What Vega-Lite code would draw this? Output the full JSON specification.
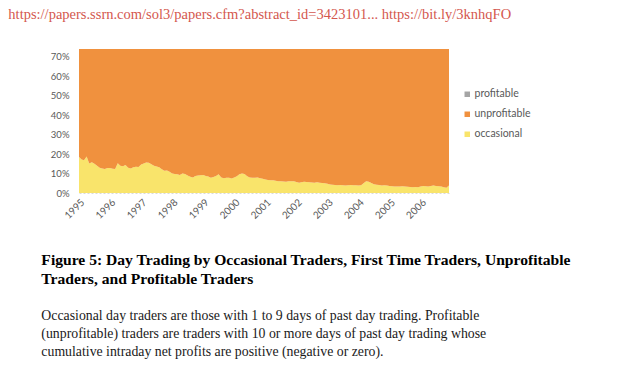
{
  "$schema": "https://vega.github.io/schema/vega-lite/v6.json",
  "background": "white",
  "padding": {"left": 8, "top": 6, "right": 0, "bottom": 0},
  "title": {
    "text": "https://papers.ssrn.com/sol3/papers.cfm?abstract_id=3423101... https://bit.ly/3knhqFO",
    "anchor": "start", "frame": "bounds", "dx": -33, "offset": 27,
    "font": "Liberation Serif", "fontSize": 14.5, "fontWeight": "normal", "color": "#d4574e"
  },
  "config": {"view": {"stroke": null}, "concat": {"spacing": 0}},
  "datasets": {
    "groups": [
      {"trader": "occasional", "rank": 1},
      {"trader": "unprofitable", "rank": 2},
      {"trader": "profitable", "rank": 3}
    ],
    "shares": [
      {"month": "1995-01-01", "occasional": 0.185, "unprofitable": 0.78, "profitable": 0.12},
      {"month": "1995-02-01", "occasional": 0.172, "unprofitable": 0.78, "profitable": 0.12},
      {"month": "1995-03-01", "occasional": 0.168, "unprofitable": 0.78, "profitable": 0.12},
      {"month": "1995-04-01", "occasional": 0.188, "unprofitable": 0.78, "profitable": 0.12},
      {"month": "1995-05-01", "occasional": 0.152, "unprofitable": 0.78, "profitable": 0.12},
      {"month": "1995-06-01", "occasional": 0.158, "unprofitable": 0.78, "profitable": 0.12},
      {"month": "1995-07-01", "occasional": 0.150, "unprofitable": 0.78, "profitable": 0.12},
      {"month": "1995-08-01", "occasional": 0.140, "unprofitable": 0.78, "profitable": 0.12},
      {"month": "1995-09-01", "occasional": 0.130, "unprofitable": 0.78, "profitable": 0.12},
      {"month": "1995-10-01", "occasional": 0.126, "unprofitable": 0.78, "profitable": 0.12},
      {"month": "1995-11-01", "occasional": 0.123, "unprofitable": 0.78, "profitable": 0.12},
      {"month": "1995-12-01", "occasional": 0.128, "unprofitable": 0.78, "profitable": 0.12},
      {"month": "1996-01-01", "occasional": 0.128, "unprofitable": 0.78, "profitable": 0.12},
      {"month": "1996-02-01", "occasional": 0.125, "unprofitable": 0.78, "profitable": 0.12},
      {"month": "1996-03-01", "occasional": 0.123, "unprofitable": 0.78, "profitable": 0.12},
      {"month": "1996-04-01", "occasional": 0.153, "unprofitable": 0.78, "profitable": 0.12},
      {"month": "1996-05-01", "occasional": 0.140, "unprofitable": 0.78, "profitable": 0.12},
      {"month": "1996-06-01", "occasional": 0.138, "unprofitable": 0.78, "profitable": 0.12},
      {"month": "1996-07-01", "occasional": 0.144, "unprofitable": 0.78, "profitable": 0.12},
      {"month": "1996-08-01", "occasional": 0.130, "unprofitable": 0.78, "profitable": 0.12},
      {"month": "1996-09-01", "occasional": 0.126, "unprofitable": 0.78, "profitable": 0.12},
      {"month": "1996-10-01", "occasional": 0.132, "unprofitable": 0.78, "profitable": 0.12},
      {"month": "1996-11-01", "occasional": 0.135, "unprofitable": 0.78, "profitable": 0.12},
      {"month": "1996-12-01", "occasional": 0.134, "unprofitable": 0.78, "profitable": 0.12},
      {"month": "1997-01-01", "occasional": 0.146, "unprofitable": 0.78, "profitable": 0.12},
      {"month": "1997-02-01", "occasional": 0.152, "unprofitable": 0.78, "profitable": 0.12},
      {"month": "1997-03-01", "occasional": 0.157, "unprofitable": 0.78, "profitable": 0.12},
      {"month": "1997-04-01", "occasional": 0.155, "unprofitable": 0.78, "profitable": 0.12},
      {"month": "1997-05-01", "occasional": 0.148, "unprofitable": 0.78, "profitable": 0.12},
      {"month": "1997-06-01", "occasional": 0.140, "unprofitable": 0.78, "profitable": 0.12},
      {"month": "1997-07-01", "occasional": 0.136, "unprofitable": 0.78, "profitable": 0.12},
      {"month": "1997-08-01", "occasional": 0.132, "unprofitable": 0.78, "profitable": 0.12},
      {"month": "1997-09-01", "occasional": 0.122, "unprofitable": 0.78, "profitable": 0.12},
      {"month": "1997-10-01", "occasional": 0.114, "unprofitable": 0.78, "profitable": 0.12},
      {"month": "1997-11-01", "occasional": 0.115, "unprofitable": 0.78, "profitable": 0.12},
      {"month": "1997-12-01", "occasional": 0.109, "unprofitable": 0.78, "profitable": 0.12},
      {"month": "1998-01-01", "occasional": 0.100, "unprofitable": 0.78, "profitable": 0.12},
      {"month": "1998-02-01", "occasional": 0.098, "unprofitable": 0.78, "profitable": 0.12},
      {"month": "1998-03-01", "occasional": 0.096, "unprofitable": 0.78, "profitable": 0.12},
      {"month": "1998-04-01", "occasional": 0.093, "unprofitable": 0.78, "profitable": 0.12},
      {"month": "1998-05-01", "occasional": 0.100, "unprofitable": 0.78, "profitable": 0.12},
      {"month": "1998-06-01", "occasional": 0.098, "unprofitable": 0.78, "profitable": 0.12},
      {"month": "1998-07-01", "occasional": 0.090, "unprofitable": 0.78, "profitable": 0.12},
      {"month": "1998-08-01", "occasional": 0.083, "unprofitable": 0.78, "profitable": 0.12},
      {"month": "1998-09-01", "occasional": 0.080, "unprofitable": 0.78, "profitable": 0.12},
      {"month": "1998-10-01", "occasional": 0.088, "unprofitable": 0.78, "profitable": 0.12},
      {"month": "1998-11-01", "occasional": 0.090, "unprofitable": 0.78, "profitable": 0.12},
      {"month": "1998-12-01", "occasional": 0.091, "unprofitable": 0.78, "profitable": 0.12},
      {"month": "1999-01-01", "occasional": 0.093, "unprofitable": 0.78, "profitable": 0.12},
      {"month": "1999-02-01", "occasional": 0.088, "unprofitable": 0.78, "profitable": 0.12},
      {"month": "1999-03-01", "occasional": 0.085, "unprofitable": 0.78, "profitable": 0.12},
      {"month": "1999-04-01", "occasional": 0.079, "unprofitable": 0.78, "profitable": 0.12},
      {"month": "1999-05-01", "occasional": 0.082, "unprofitable": 0.78, "profitable": 0.12},
      {"month": "1999-06-01", "occasional": 0.088, "unprofitable": 0.78, "profitable": 0.12},
      {"month": "1999-07-01", "occasional": 0.096, "unprofitable": 0.78, "profitable": 0.12},
      {"month": "1999-08-01", "occasional": 0.080, "unprofitable": 0.78, "profitable": 0.12},
      {"month": "1999-09-01", "occasional": 0.076, "unprofitable": 0.78, "profitable": 0.12},
      {"month": "1999-10-01", "occasional": 0.079, "unprofitable": 0.78, "profitable": 0.12},
      {"month": "1999-11-01", "occasional": 0.078, "unprofitable": 0.78, "profitable": 0.12},
      {"month": "1999-12-01", "occasional": 0.074, "unprofitable": 0.78, "profitable": 0.12},
      {"month": "2000-01-01", "occasional": 0.080, "unprofitable": 0.78, "profitable": 0.12},
      {"month": "2000-02-01", "occasional": 0.086, "unprofitable": 0.78, "profitable": 0.12},
      {"month": "2000-03-01", "occasional": 0.096, "unprofitable": 0.78, "profitable": 0.12},
      {"month": "2000-04-01", "occasional": 0.100, "unprofitable": 0.78, "profitable": 0.12},
      {"month": "2000-05-01", "occasional": 0.097, "unprofitable": 0.78, "profitable": 0.12},
      {"month": "2000-06-01", "occasional": 0.086, "unprofitable": 0.78, "profitable": 0.12},
      {"month": "2000-07-01", "occasional": 0.080, "unprofitable": 0.78, "profitable": 0.12},
      {"month": "2000-08-01", "occasional": 0.079, "unprofitable": 0.78, "profitable": 0.12},
      {"month": "2000-09-01", "occasional": 0.078, "unprofitable": 0.78, "profitable": 0.12},
      {"month": "2000-10-01", "occasional": 0.080, "unprofitable": 0.78, "profitable": 0.12},
      {"month": "2000-11-01", "occasional": 0.076, "unprofitable": 0.78, "profitable": 0.12},
      {"month": "2000-12-01", "occasional": 0.073, "unprofitable": 0.78, "profitable": 0.12},
      {"month": "2001-01-01", "occasional": 0.070, "unprofitable": 0.78, "profitable": 0.12},
      {"month": "2001-02-01", "occasional": 0.067, "unprofitable": 0.78, "profitable": 0.12},
      {"month": "2001-03-01", "occasional": 0.065, "unprofitable": 0.78, "profitable": 0.12},
      {"month": "2001-04-01", "occasional": 0.066, "unprofitable": 0.78, "profitable": 0.12},
      {"month": "2001-05-01", "occasional": 0.063, "unprofitable": 0.78, "profitable": 0.12},
      {"month": "2001-06-01", "occasional": 0.061, "unprofitable": 0.78, "profitable": 0.12},
      {"month": "2001-07-01", "occasional": 0.060, "unprofitable": 0.78, "profitable": 0.12},
      {"month": "2001-08-01", "occasional": 0.059, "unprofitable": 0.78, "profitable": 0.12},
      {"month": "2001-09-01", "occasional": 0.058, "unprofitable": 0.78, "profitable": 0.12},
      {"month": "2001-10-01", "occasional": 0.060, "unprofitable": 0.78, "profitable": 0.12},
      {"month": "2001-11-01", "occasional": 0.061, "unprofitable": 0.78, "profitable": 0.12},
      {"month": "2001-12-01", "occasional": 0.060, "unprofitable": 0.78, "profitable": 0.12},
      {"month": "2002-01-01", "occasional": 0.056, "unprofitable": 0.78, "profitable": 0.12},
      {"month": "2002-02-01", "occasional": 0.053, "unprofitable": 0.78, "profitable": 0.12},
      {"month": "2002-03-01", "occasional": 0.055, "unprofitable": 0.78, "profitable": 0.12},
      {"month": "2002-04-01", "occasional": 0.058, "unprofitable": 0.78, "profitable": 0.12},
      {"month": "2002-05-01", "occasional": 0.057, "unprofitable": 0.78, "profitable": 0.12},
      {"month": "2002-06-01", "occasional": 0.055, "unprofitable": 0.78, "profitable": 0.12},
      {"month": "2002-07-01", "occasional": 0.054, "unprofitable": 0.78, "profitable": 0.12},
      {"month": "2002-08-01", "occasional": 0.053, "unprofitable": 0.78, "profitable": 0.12},
      {"month": "2002-09-01", "occasional": 0.055, "unprofitable": 0.78, "profitable": 0.12},
      {"month": "2002-10-01", "occasional": 0.053, "unprofitable": 0.78, "profitable": 0.12},
      {"month": "2002-11-01", "occasional": 0.052, "unprofitable": 0.78, "profitable": 0.12},
      {"month": "2002-12-01", "occasional": 0.050, "unprofitable": 0.78, "profitable": 0.12},
      {"month": "2003-01-01", "occasional": 0.047, "unprofitable": 0.78, "profitable": 0.12},
      {"month": "2003-02-01", "occasional": 0.044, "unprofitable": 0.78, "profitable": 0.12},
      {"month": "2003-03-01", "occasional": 0.042, "unprofitable": 0.78, "profitable": 0.12},
      {"month": "2003-04-01", "occasional": 0.041, "unprofitable": 0.78, "profitable": 0.12},
      {"month": "2003-05-01", "occasional": 0.040, "unprofitable": 0.78, "profitable": 0.12},
      {"month": "2003-06-01", "occasional": 0.041, "unprofitable": 0.78, "profitable": 0.12},
      {"month": "2003-07-01", "occasional": 0.040, "unprofitable": 0.78, "profitable": 0.12},
      {"month": "2003-08-01", "occasional": 0.039, "unprofitable": 0.78, "profitable": 0.12},
      {"month": "2003-09-01", "occasional": 0.040, "unprofitable": 0.78, "profitable": 0.12},
      {"month": "2003-10-01", "occasional": 0.041, "unprofitable": 0.78, "profitable": 0.12},
      {"month": "2003-11-01", "occasional": 0.040, "unprofitable": 0.78, "profitable": 0.12},
      {"month": "2003-12-01", "occasional": 0.040, "unprofitable": 0.78, "profitable": 0.12},
      {"month": "2004-01-01", "occasional": 0.039, "unprofitable": 0.78, "profitable": 0.12},
      {"month": "2004-02-01", "occasional": 0.040, "unprofitable": 0.78, "profitable": 0.12},
      {"month": "2004-03-01", "occasional": 0.050, "unprofitable": 0.78, "profitable": 0.12},
      {"month": "2004-04-01", "occasional": 0.061, "unprofitable": 0.78, "profitable": 0.12},
      {"month": "2004-05-01", "occasional": 0.058, "unprofitable": 0.78, "profitable": 0.12},
      {"month": "2004-06-01", "occasional": 0.052, "unprofitable": 0.78, "profitable": 0.12},
      {"month": "2004-07-01", "occasional": 0.045, "unprofitable": 0.78, "profitable": 0.12},
      {"month": "2004-08-01", "occasional": 0.042, "unprofitable": 0.78, "profitable": 0.12},
      {"month": "2004-09-01", "occasional": 0.041, "unprofitable": 0.78, "profitable": 0.12},
      {"month": "2004-10-01", "occasional": 0.039, "unprofitable": 0.78, "profitable": 0.12},
      {"month": "2004-11-01", "occasional": 0.040, "unprofitable": 0.78, "profitable": 0.12},
      {"month": "2004-12-01", "occasional": 0.038, "unprofitable": 0.78, "profitable": 0.12},
      {"month": "2005-01-01", "occasional": 0.036, "unprofitable": 0.78, "profitable": 0.12},
      {"month": "2005-02-01", "occasional": 0.035, "unprofitable": 0.78, "profitable": 0.12},
      {"month": "2005-03-01", "occasional": 0.034, "unprofitable": 0.78, "profitable": 0.12},
      {"month": "2005-04-01", "occasional": 0.034, "unprofitable": 0.78, "profitable": 0.12},
      {"month": "2005-05-01", "occasional": 0.033, "unprofitable": 0.78, "profitable": 0.12},
      {"month": "2005-06-01", "occasional": 0.035, "unprofitable": 0.78, "profitable": 0.12},
      {"month": "2005-07-01", "occasional": 0.033, "unprofitable": 0.78, "profitable": 0.12},
      {"month": "2005-08-01", "occasional": 0.032, "unprofitable": 0.78, "profitable": 0.12},
      {"month": "2005-09-01", "occasional": 0.031, "unprofitable": 0.78, "profitable": 0.12},
      {"month": "2005-10-01", "occasional": 0.030, "unprofitable": 0.78, "profitable": 0.12},
      {"month": "2005-11-01", "occasional": 0.031, "unprofitable": 0.78, "profitable": 0.12},
      {"month": "2005-12-01", "occasional": 0.030, "unprofitable": 0.78, "profitable": 0.12},
      {"month": "2006-01-01", "occasional": 0.034, "unprofitable": 0.78, "profitable": 0.12},
      {"month": "2006-02-01", "occasional": 0.036, "unprofitable": 0.78, "profitable": 0.12},
      {"month": "2006-03-01", "occasional": 0.035, "unprofitable": 0.78, "profitable": 0.12},
      {"month": "2006-04-01", "occasional": 0.033, "unprofitable": 0.78, "profitable": 0.12},
      {"month": "2006-05-01", "occasional": 0.036, "unprofitable": 0.78, "profitable": 0.12},
      {"month": "2006-06-01", "occasional": 0.038, "unprofitable": 0.78, "profitable": 0.12},
      {"month": "2006-07-01", "occasional": 0.036, "unprofitable": 0.78, "profitable": 0.12},
      {"month": "2006-08-01", "occasional": 0.035, "unprofitable": 0.78, "profitable": 0.12},
      {"month": "2006-09-01", "occasional": 0.033, "unprofitable": 0.78, "profitable": 0.12},
      {"month": "2006-10-01", "occasional": 0.030, "unprofitable": 0.78, "profitable": 0.12},
      {"month": "2006-11-01", "occasional": 0.027, "unprofitable": 0.78, "profitable": 0.12},
      {"month": "2006-12-01", "occasional": 0.038, "unprofitable": 0.78, "profitable": 0.12}
    ]
  },
  "vconcat": [
    {
      "width": 370,
      "height": 144,
      "title": {
        "text": ["Figure 5: Day Trading by Occasional Traders, First Time Traders, Unprofitable", "Traders, and Profitable Traders"],
        "subtitle": ["Occasional day traders are those with 1 to 9 days of past day trading.  Profitable", "(unprofitable) traders are traders with 10 or more days of past day trading whose", "cumulative intraday net profits are positive (negative or zero)."],
        "orient": "bottom", "anchor": "start", "frame": "bounds", "dx": -9, "offset": 33,
        "font": "Liberation Serif", "fontSize": 15.6, "fontWeight": "bold", "color": "#000000", "lineHeight": 19,
        "subtitleFont": "Liberation Serif", "subtitleFontSize": 13.8, "subtitleFontWeight": "normal", "subtitleColor": "#1a1a1a",
        "subtitleLineHeight": 18, "subtitlePadding": 21
      },
      "data": {"name": "shares"},
      "transform": [
        {"fold": ["occasional", "unprofitable", "profitable"], "as": ["trader", "share"]},
        {"lookup": "trader", "from": {"data": {"name": "groups"}, "key": "trader", "fields": ["rank"]}}
      ],
      "mark": {"type": "area", "clip": true},
      "encoding": {
        "x": {
          "field": "month", "type": "temporal",
          "scale": {"type": "utc", "nice": false},
          "axis": {
            "format": "%Y", "tickCount": {"interval": "year", "step": 1}, "labelAngle": -45,
            "ticks": false, "grid": false, "title": null,
            "domainColor": "#d9d9d9", "domainDash": [2, 2],
            "labelFont": "Lato", "labelFontSize": 10, "labelColor": "#595959", "labelPadding": 4
          }
        },
        "y": {
          "field": "share", "type": "quantitative", "stack": "zero",
          "scale": {"domain": [0, 0.74], "nice": false},
          "axis": {
            "values": [0, 0.1, 0.2, 0.3, 0.4, 0.5, 0.6, 0.7], "format": ".0%", "title": null,
            "ticks": false, "domain": false, "grid": false,
            "labelFont": "Lato", "labelFontSize": 9.5, "labelColor": "#595959", "labelPadding": 10
          }
        },
        "color": {
          "field": "trader", "type": "nominal",
          "scale": {"domain": ["profitable", "unprofitable", "occasional"], "range": ["#A5A5A5", "#F0913E", "#F9E46B"]},
          "legend": {
            "orient": "none", "legendX": 383, "legendY": 40, "title": null,
            "symbolType": "square", "symbolSize": 30, "symbolStrokeWidth": 0,
            "labelFont": "Lato", "labelFontSize": 10.5, "labelColor": "#595959", "rowPadding": 9, "labelOffset": 2
          }
        },
        "order": {"field": "rank", "type": "quantitative", "sort": "ascending"}
      }
    }
  ]
}
